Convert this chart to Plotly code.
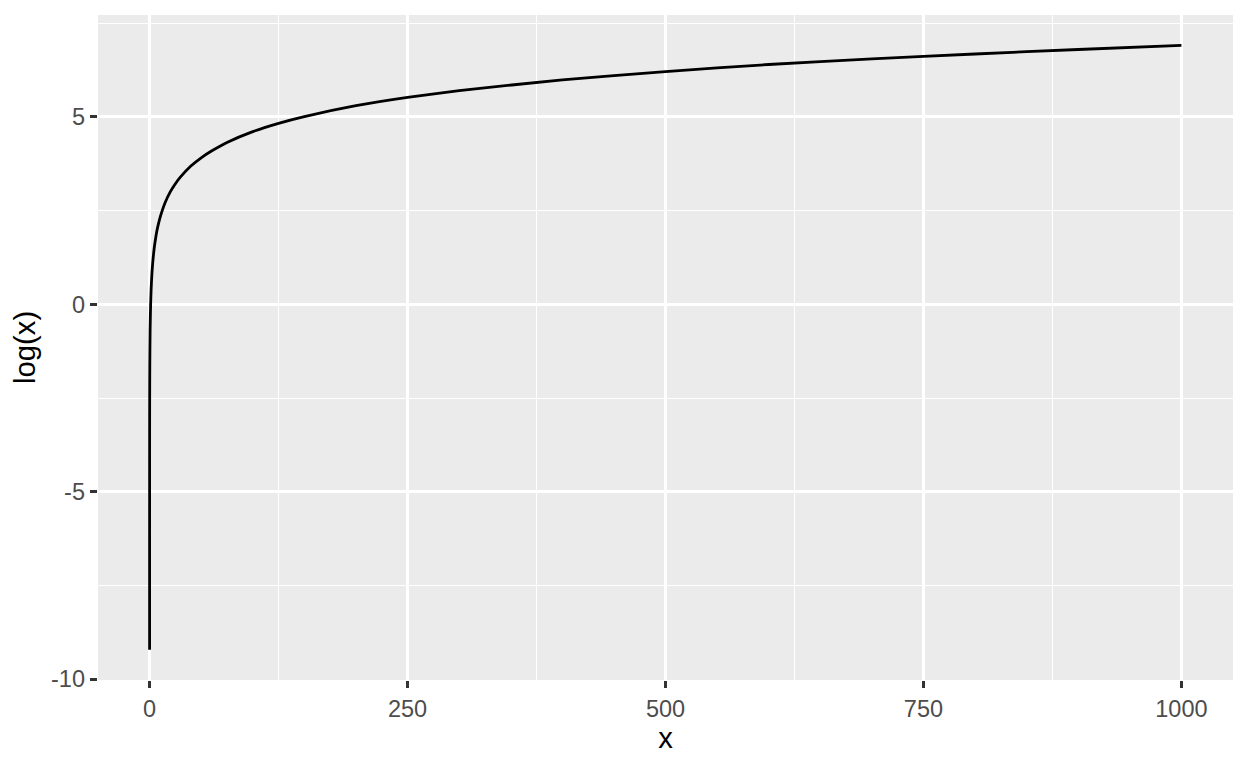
import plotly.graph_objects as go

# Values
x_vals = [0.0001, 0.0002, 0.0005, 0.001, 0.002, 0.005, 0.01, 0.02, 0.05, 0.1, 0.2, 0.5,
          1, 1.5, 2, 2.5, 3, 4, 5, 6, 7, 8, 10, 12, 15, 20, 25, 30, 40, 50, 60, 75,
          100, 125, 150, 200, 250, 300, 400, 500, 600, 700, 800, 900, 1000]
y_vals = [-9.21, -8.52, -7.60, -6.91, -6.21, -5.30, -4.61, -3.91, -3.00, -2.30, -1.61, -0.69,
          0.00, 0.41, 0.69, 0.92, 1.10, 1.39, 1.61, 1.79, 1.95, 2.08, 2.30, 2.48, 2.71, 3.00, 3.22, 3.40, 3.69, 3.91, 4.09, 4.32,
          4.61, 4.83, 5.01, 5.30, 5.52, 5.70, 5.99, 6.21, 6.40, 6.55, 6.68, 6.80, 6.91]

x_ticks = [0, 250, 500, 750, 1000]
y_ticks = [-10, -5, 0, 5]

FONT = "Liberation Sans, Arial, sans-serif"

fig = go.Figure()
fig.add_trace(go.Scatter(x=x_vals, y=y_vals, mode="lines", line_shape="spline",
                         line=dict(color="black", width=2.8, smoothing=0.6), hoverinfo="skip"))

axis_common = dict(
    showgrid=True, gridcolor="white", gridwidth=2.8,
    zeroline=False, showline=False,
    ticks="outside", ticklen=7.3, tickwidth=2.8, tickcolor="#333333",
    tickfont=dict(family=FONT, size=23.5, color="#4D4D4D"),
    title_font=dict(family=FONT, size=29.3, color="black"),
)

fig.update_layout(
    width=1240, height=760,
    margin=dict(l=90, r=15, t=7, b=88),
    plot_bgcolor="#EBEBEB", paper_bgcolor="white",
    showlegend=False,
    xaxis=dict(range=[-50.0, 1050.0], tickvals=x_ticks, ticktext=[str(v) for v in x_ticks],
               title=dict(text="x", standoff=6),
               minor=dict(tickvals=[125, 375, 625, 875], showgrid=True, gridcolor="white",
                          gridwidth=1.4, ticks=""),
               **axis_common),
    yaxis=dict(range=[-10.02, 7.72], tickvals=y_ticks, ticktext=[str(v) for v in y_ticks],
               title=dict(text="log(x)", standoff=6),
               minor=dict(tickvals=[-7.5, -2.5, 2.5, 7.5], showgrid=True, gridcolor="white",
                          gridwidth=1.4, ticks=""),
               **axis_common),
)

fig.write_html("out.html")
